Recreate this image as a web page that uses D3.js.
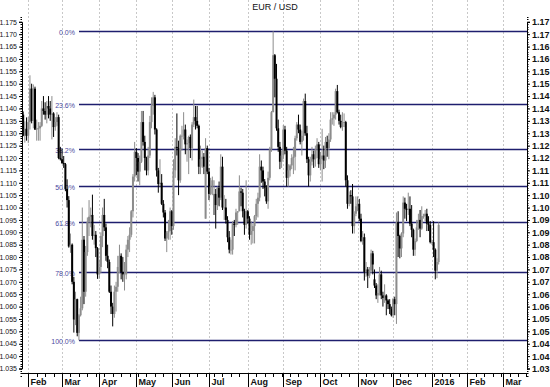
<!DOCTYPE html>
<html>
<head>
<meta charset="utf-8">
<script src="https://cdn.jsdelivr.net/npm/d3@7"></script>
<style>
  body { margin: 0; background: #fff; }
  svg { display: block; }
  text { font-family: "Liberation Sans", Arial, sans-serif; }
</style>
</head>
<body>
<svg id="chart" width="550" height="387"></svg>
<script>
// one bar per weekday, starting on startDay: [open, high, low, close]
var startDay = "2015-01-28";
var endDay = "2016-03-21";

var jan15 = [
  [1.1375,1.1388,1.1288,1.1290],[1.1290,1.1348,1.1262,1.1318],[1.1318,1.1364,1.1270,1.1290]
];
var feb15 = [
  [1.1290,1.1365,1.1260,1.1345],[1.1345,1.1534,1.1315,1.1480],[1.1480,1.1500,1.1340,1.1350],
  [1.1350,1.1497,1.1320,1.1480],[1.1480,1.1488,1.1313,1.1315],[1.1315,1.1355,1.1270,1.1320],
  [1.1320,1.1345,1.1270,1.1320],[1.1320,1.1345,1.1270,1.1330],[1.1330,1.1430,1.1325,1.1400],
  [1.1400,1.1450,1.1375,1.1390],[1.1390,1.1425,1.1355,1.1375],[1.1375,1.1430,1.1340,1.1410],
  [1.1410,1.1450,1.1360,1.1400],[1.1400,1.1430,1.1350,1.1375],[1.1375,1.1450,1.1275,1.1380],
  [1.1380,1.1385,1.1285,1.1325],[1.1325,1.1365,1.1310,1.1345],[1.1345,1.1385,1.1330,1.1365],
  [1.1365,1.1375,1.1195,1.1200],[1.1200,1.1245,1.1190,1.1195]
];
var mar15 = [
  [1.1195,1.1237,1.1176,1.1180],[1.1180,1.1208,1.1160,1.1175],[1.1175,1.1180,1.1066,1.1075],
  [1.1075,1.1114,1.1000,1.1030],[1.1030,1.1046,1.0838,1.0843],[1.0843,1.0895,1.0817,1.0850],
  [1.0850,1.0855,1.0690,1.0700],[1.0700,1.0720,1.0495,1.0548],[1.0548,1.0660,1.0525,1.0630],
  [1.0630,1.0632,1.0480,1.0494],[1.0494,1.0570,1.0464,1.0565],[1.0565,1.0640,1.0560,1.0593],
  [1.0593,1.1000,1.0585,1.0870],[1.0870,1.0885,1.0610,1.0660],[1.0660,1.0845,1.0640,1.0820],
  [1.0820,1.0960,1.0805,1.0942],[1.0942,1.1030,1.0885,1.0963],[1.0963,1.1000,1.0920,1.0970],
  [1.0970,1.1052,1.0870,1.0885],[1.0885,1.0930,1.0850,1.0890],[1.0890,1.0905,1.0800,1.0836],
  [1.0836,1.0840,1.0712,1.0730]
];
var apr15 = [
  [1.0730,1.0790,1.0712,1.0760],[1.0760,1.0900,1.0735,1.0885],[1.0885,1.1000,1.0840,1.0970],
  [1.0970,1.1035,1.0905,1.0920],[1.0920,1.0935,1.0785,1.0805],[1.0805,1.0850,1.0755,1.0780],
  [1.0780,1.0790,1.0655,1.0660],[1.0660,1.0685,1.0570,1.0600],[1.0600,1.0615,1.0520,1.0570],
  [1.0570,1.0685,1.0555,1.0660],[1.0660,1.0700,1.0580,1.0680],[1.0680,1.0805,1.0660,1.0760],
  [1.0760,1.0850,1.0735,1.0805],[1.0805,1.0815,1.0710,1.0740],[1.0740,1.0800,1.0700,1.0730],
  [1.0730,1.0780,1.0665,1.0730],[1.0730,1.0850,1.0710,1.0830],[1.0830,1.0885,1.0800,1.0870],
  [1.0870,1.0920,1.0820,1.0890],[1.0890,1.0990,1.0880,1.0985],[1.0985,1.1135,1.0960,1.1125],
  [1.1125,1.1265,1.1105,1.1225]
];
var may15 = [
  [1.1225,1.1240,1.1130,1.1200],[1.1200,1.1220,1.1105,1.1145],[1.1145,1.1210,1.1090,1.1185],
  [1.1185,1.1390,1.1180,1.1345],[1.1345,1.1390,1.1250,1.1265],[1.1265,1.1290,1.1150,1.1200],
  [1.1200,1.1205,1.1130,1.1150],[1.1150,1.1245,1.1130,1.1210],[1.1210,1.1370,1.1200,1.1345],
  [1.1345,1.1445,1.1320,1.1410],[1.1410,1.1467,1.1375,1.1445],[1.1445,1.1455,1.1295,1.1315],
  [1.1315,1.1320,1.1125,1.1150],[1.1150,1.1160,1.1060,1.1095],[1.1095,1.1195,1.1085,1.1100],
  [1.1100,1.1135,1.1010,1.1015],[1.1015,1.1030,1.0960,1.0980],[1.0980,1.0990,1.0865,1.0875],
  [1.0875,1.0905,1.0820,1.0900],[1.0900,1.0950,1.0870,1.0905],[1.0905,1.1000,1.0870,1.0985]
];
var jun15 = [
  [1.0985,1.0990,1.0890,1.0925],[1.0925,1.1195,1.0910,1.1150],[1.1150,1.1280,1.1120,1.1245],
  [1.1245,1.1380,1.1210,1.1240],[1.1240,1.1270,1.1050,1.1110],[1.1110,1.1295,1.1100,1.1290],
  [1.1290,1.1330,1.1230,1.1290],[1.1290,1.1385,1.1275,1.1315],[1.1315,1.1335,1.1215,1.1255],
  [1.1255,1.1275,1.1185,1.1260],[1.1260,1.1290,1.1135,1.1285],[1.1285,1.1295,1.1200,1.1240],
  [1.1240,1.1345,1.1190,1.1335],[1.1335,1.1436,1.1325,1.1365],[1.1365,1.1410,1.1315,1.1350],
  [1.1350,1.1410,1.1320,1.1330],[1.1330,1.1335,1.1135,1.1165],[1.1165,1.1250,1.1135,1.1195],
  [1.1195,1.1230,1.1160,1.1205],[1.1205,1.1220,1.1135,1.1165],[1.0955,1.1280,1.0955,1.1240],
  [1.1240,1.1250,1.1135,1.1145]
];
var jul15 = [
  [1.1145,1.1160,1.1030,1.1055],[1.1055,1.1120,1.1050,1.1085],[1.1085,1.1125,1.1050,1.1110],
  [1.0970,1.1110,1.0970,1.1055],[1.1055,1.1075,1.0915,1.1010],[1.1010,1.1085,1.0990,1.1080],
  [1.1080,1.1105,1.1005,1.1040],[1.1040,1.1215,1.1030,1.1165],[1.1165,1.1205,1.0990,1.1000],
  [1.1000,1.1050,1.0950,1.1000],[1.1000,1.1035,1.0935,1.0950],[1.0950,1.0965,1.0860,1.0880],
  [1.0880,1.0905,1.0815,1.0830],[1.0830,1.0870,1.0810,1.0830],[1.0830,1.0945,1.0810,1.0935],
  [1.0935,1.0950,1.0885,1.0930],[1.0930,1.0995,1.0920,1.0980],[1.0980,1.0985,1.0930,1.0985],
  [1.0985,1.1130,1.0985,1.1065],[1.1065,1.1080,1.1005,1.1060],[1.1060,1.1075,1.0960,1.0985],
  [1.0985,1.0995,1.0890,1.0930],[1.0930,1.1110,1.0915,1.0985]
];
var aug15 = [
  [1.0985,1.0990,1.0935,1.0955],[1.0955,1.0965,1.0870,1.0890],[1.0890,1.0945,1.0850,1.0905],
  [1.0905,1.0935,1.0855,1.0925],[1.0925,1.0970,1.0855,1.0965],[1.0965,1.1035,1.0950,1.1015],
  [1.1015,1.1060,1.0960,1.1040],[1.1040,1.1215,1.1025,1.1165],[1.1165,1.1190,1.1100,1.1150],
  [1.1150,1.1165,1.1075,1.1105],[1.1105,1.1115,1.1045,1.1080],[1.1080,1.1090,1.1015,1.1025],
  [1.1025,1.1145,1.0995,1.1120],[1.1120,1.1245,1.1110,1.1235],[1.1235,1.1390,1.1225,1.1385],
  [1.1385,1.1712,1.1385,1.1615],[1.1615,1.1620,1.1445,1.1520],[1.1520,1.1580,1.1310,1.1320],
  [1.1320,1.1355,1.1225,1.1245],[1.1245,1.1265,1.1155,1.1185],[1.1185,1.1230,1.1160,1.1210]
];
var sep15 = [
  [1.1210,1.1333,1.1195,1.1315],[1.1315,1.1330,1.1215,1.1230],[1.1230,1.1245,1.1085,1.1120],
  [1.1120,1.1175,1.1085,1.1150],[1.1150,1.1175,1.1125,1.1170],[1.1170,1.1215,1.1155,1.1200],
  [1.1200,1.1245,1.1135,1.1205],[1.1205,1.1290,1.1150,1.1280],[1.1280,1.1345,1.1270,1.1335],
  [1.1335,1.1375,1.1300,1.1315],[1.1315,1.1335,1.1255,1.1265],[1.1265,1.1310,1.1210,1.1290],
  [1.1290,1.1440,1.1270,1.1430],[1.1430,1.1460,1.1290,1.1300],[1.1300,1.1330,1.1180,1.1195],
  [1.1195,1.1205,1.1085,1.1130],[1.1130,1.1205,1.1105,1.1185],[1.1185,1.1245,1.1170,1.1215],
  [1.1215,1.1230,1.1160,1.1195],[1.1195,1.1250,1.1165,1.1235],[1.1235,1.1280,1.1200,1.1255],
  [1.1255,1.1265,1.1160,1.1175]
];
var oct15 = [
  [1.1175,1.1225,1.1150,1.1195],[1.1195,1.1318,1.1105,1.1210],[1.1210,1.1250,1.1155,1.1190],
  [1.1190,1.1285,1.1160,1.1265],[1.1265,1.1290,1.1205,1.1240],[1.1240,1.1300,1.1195,1.1275],
  [1.1275,1.1385,1.1265,1.1355],[1.1355,1.1385,1.1335,1.1360],[1.1360,1.1385,1.1330,1.1375],
  [1.1375,1.1480,1.1355,1.1470],[1.1470,1.1495,1.1380,1.1385],[1.1385,1.1395,1.1335,1.1350],
  [1.1350,1.1375,1.1320,1.1325],[1.1325,1.1385,1.1310,1.1345],[1.1345,1.1380,1.1325,1.1345],
  [1.1345,1.1350,1.1085,1.1110],[1.1110,1.1130,1.0995,1.1015],[1.1015,1.1065,1.1005,1.1050],
  [1.1050,1.1070,1.1015,1.1045],[1.1045,1.1095,1.0895,1.0925],[1.0925,1.0985,1.0895,1.0975],
  [1.0975,1.1045,1.0965,1.1005]
];
var nov15 = [
  [1.1005,1.1045,1.0985,1.1015],[1.1015,1.1035,1.0945,1.0955],[1.0955,1.0975,1.0860,1.0865],
  [1.0865,1.0905,1.0850,1.0880],[1.0880,1.0895,1.0705,1.0740],[1.0740,1.0780,1.0720,1.0750],
  [1.0750,1.0760,1.0675,1.0725],[1.0725,1.0760,1.0715,1.0745],[1.0745,1.0830,1.0735,1.0815],
  [1.0815,1.0825,1.0730,1.0770],[1.0710,1.0750,1.0675,1.0685],[1.0685,1.0695,1.0630,1.0645],
  [1.0645,1.0690,1.0615,1.0655],[1.0655,1.0760,1.0645,1.0730],[1.0730,1.0745,1.0630,1.0645],
  [1.0645,1.0660,1.0600,1.0635],[1.0635,1.0690,1.0615,1.0645],[1.0645,1.0650,1.0565,1.0625],
  [1.0625,1.0630,1.0590,1.0610],[1.0610,1.0630,1.0570,1.0590],[1.0590,1.0600,1.0560,1.0565]
];
var dec15 = [
  [1.0565,1.0635,1.0555,1.0630],[1.0630,1.0640,1.0565,1.0610],[1.0610,1.0980,1.0530,1.0940],
  [1.0940,1.0985,1.0800,1.0885],[1.0885,1.0890,1.0795,1.0835],[1.0835,1.0900,1.0800,1.0895],
  [1.0895,1.1045,1.0880,1.1020],[1.1020,1.1040,1.0955,1.0995],[1.0995,1.1015,1.0945,1.0990],
  [1.0990,1.1060,1.0970,1.0995],[1.0995,1.1045,1.0925,1.0935],[1.0935,1.1010,1.0880,1.0910],
  [1.0910,1.0915,1.0805,1.0830],[1.0830,1.0875,1.0805,1.0865],[1.0865,1.0950,1.0860,1.0920],
  [1.0920,1.0975,1.0910,1.0950],[1.0950,1.0990,1.0880,1.0915],[1.0915,1.1005,1.0910,1.0965],
  [1.0965,1.0975,1.0955,1.0965],[1.0965,1.0990,1.0945,1.0975],[1.0975,1.0995,1.0905,1.0935],
  [1.0935,1.0965,1.0905,1.0930],[1.0930,1.0945,1.0855,1.0860]
];
var jan16 = [
  [1.0860,1.0870,1.0850,1.0860],[1.0860,1.0945,1.0800,1.0830],[1.0830,1.0835,1.0710,1.0745],
  [1.0745,1.0795,1.0715,1.0780],[1.0780,1.0940,1.0770,1.0930]
];

// retracement between the swing low and high
var swingHigh = 1.1712;
var swingLow = 1.0464;
var fibLevels = [0, 0.236, 0.382, 0.5, 0.618, 0.78, 1];
var fibLabels = ["0.0%", "23.6%", "38.2%", "50.0%", "61.8%", "78.0%", "100.0%"];

// month ticks: first weekday of each month
var monthDays = ["2015-02-02","2015-03-02","2015-04-01","2015-05-01","2015-06-01","2015-07-01",
  "2015-08-03","2015-09-01","2015-10-01","2015-11-02","2015-12-01","2016-01-01","2016-02-01","2016-03-01"];
var monthLabels = ["Feb","Mar","Apr","May","Jun","Jul","Aug","Sep","Oct","Nov","Dec","2016","Feb","Mar"];

var leftTicks = d3.range(1.035, 1.1751, 0.005);

var bars = [].concat(jan15, feb15, mar15, apr15, may15, jun15, jul15, aug15, sep15, oct15, nov15, dec15, jan16)
  .map(function (d, i) { return { i: i, o: d[0], h: d[1], l: d[2], c: d[3] }; });

var parse = d3.utcParse("%Y-%m-%d");
var fmtDay = d3.utcFormat("%Y-%m-%d");
var days = d3.utcDay.range(parse(startDay), d3.utcDay.offset(parse(endDay), 1))
  .filter(function (d) { return d.getUTCDay() !== 0 && d.getUTCDay() !== 6; });
var dayIndex = {};
days.forEach(function (d, i) { dayIndex[fmtDay(d)] = i; });

var plotTop = 0, plotBottom = 373, plotLeft = 22, plotRight = 527;

var x = d3.scaleLinear().domain([-0.7, days.length - 1 + 0.3]).range([plotLeft, plotRight]);
var y = d3.scaleLinear().domain([1.035, 1.175]).range([368.5, 21.8]);

var svg = d3.select("#chart");

/* month grid */
svg.append("g").selectAll("line")
  .data(monthDays).enter().append("line")
  .attr("x1", function (d) { return Math.round(x(dayIndex[d])) + 0.5; })
  .attr("x2", function (d) { return Math.round(x(dayIndex[d])) + 0.5; })
  .attr("y1", plotTop).attr("y2", plotBottom)
  .attr("stroke", "#c8c8c8").attr("stroke-dasharray", "2,2");

/* title */
svg.append("text")
  .attr("x", 275).attr("y", 10)
  .attr("text-anchor", "middle")
  .attr("font-size", "9px")
  .attr("fill", "#111")
  .text("EUR / USD");

/* fibonacci lines */
var fib = svg.append("g");
fibLevels.forEach(function (f, k) {
  var v = swingHigh - f * (swingHigh - swingLow);
  var yy = Math.round(y(v)) + 0.5;
  fib.append("line")
    .attr("x1", 79).attr("x2", plotRight)
    .attr("y1", yy).attr("y2", yy)
    .attr("stroke", "#1e1e6e").attr("stroke-width", 1.5);
  fib.append("text")
    .attr("x", 75).attr("y", yy + 3)
    .attr("text-anchor", "end")
    .attr("font-size", "7px")
    .attr("fill", "#4a4aa0")
    .text(fibLabels[k]);
});

/* bars */
var g = svg.append("g");
bars.forEach(function (d) {
  var col = d.c >= d.o ? "#8c8c8c" : "#000";
  var cx = x(d.i);
  g.append("line")
    .attr("x1", cx).attr("x2", cx)
    .attr("y1", y(d.h)).attr("y2", y(d.l))
    .attr("stroke", col).attr("stroke-width", 1);
  var top = y(Math.max(d.o, d.c)), bot = y(Math.min(d.o, d.c));
  g.append("rect")
    .attr("x", cx - 1).attr("width", 2)
    .attr("y", top).attr("height", Math.max(0.8, bot - top))
    .attr("fill", col);
});

/* left axis */
var yLeft = d3.axisLeft(y).tickValues(leftTicks).tickSize(3).tickPadding(2)
  .tickFormat(d3.format(".3f"));
svg.append("g")
  .attr("transform", "translate(" + plotLeft + ",0)")
  .call(yLeft)
  .call(function (a) {
    a.select(".domain").attr("stroke", "#000");
    a.selectAll("text").attr("font-size", "7px").attr("fill", "#111");
  });

/* right axis */
var yRight = d3.axisRight(y).tickValues(leftTicks).tickSize(3).tickPadding(2)
  .tickFormat(function (d) { return (Math.floor(d * 100 + 1e-6) / 100).toFixed(2); });
svg.append("g")
  .attr("transform", "translate(" + plotRight + ",0)")
  .call(yRight)
  .call(function (a) {
    a.select(".domain").attr("stroke", "#000");
    a.selectAll("text").attr("font-size", "9px").attr("font-weight", "bold").attr("fill", "#111");
  });

/* minor y ticks */
var minor = d3.range(1.032, 1.178, 0.001);
svg.append("g").selectAll("line").data(minor).enter().append("line")
  .attr("x1", plotLeft - 1.5).attr("x2", plotLeft)
  .attr("y1", function (d) { return Math.round(y(d)) + 0.5; })
  .attr("y2", function (d) { return Math.round(y(d)) + 0.5; })
  .attr("stroke", "#000");
svg.append("g").selectAll("line").data(minor).enter().append("line")
  .attr("x1", plotRight).attr("x2", plotRight + 1.5)
  .attr("y1", function (d) { return Math.round(y(d)) + 0.5; })
  .attr("y2", function (d) { return Math.round(y(d)) + 0.5; })
  .attr("stroke", "#000");

/* x axis */
var mondays = days.map(function (d, i) { return d.getUTCDay() === 1 ? i : -1; })
  .filter(function (i) { return i >= 0; });
svg.append("line")
  .attr("x1", plotLeft).attr("x2", plotRight)
  .attr("y1", plotBottom + 0.5).attr("y2", plotBottom + 0.5)
  .attr("stroke", "#000");
svg.append("g").selectAll("line").data(mondays).enter().append("line")
  .attr("x1", function (i) { return Math.round(x(i)) + 0.5; })
  .attr("x2", function (i) { return Math.round(x(i)) + 0.5; })
  .attr("y1", plotBottom).attr("y2", plotBottom + 4)
  .attr("stroke", "#000");

var xm = svg.append("g").selectAll("g").data(monthDays).enter().append("g")
  .attr("transform", function (d) { return "translate(" + (Math.round(x(dayIndex[d])) + 0.5) + "," + plotBottom + ")"; });
xm.append("line").attr("y1", 0).attr("y2", 14).attr("stroke", "#000");
xm.append("text")
  .attr("x", 2).attr("y", 12)
  .attr("font-size", "9px").attr("font-weight", "bold").attr("fill", "#111")
  .text(function (d, k) { return monthLabels[k]; });
</script>
</body>
</html>
